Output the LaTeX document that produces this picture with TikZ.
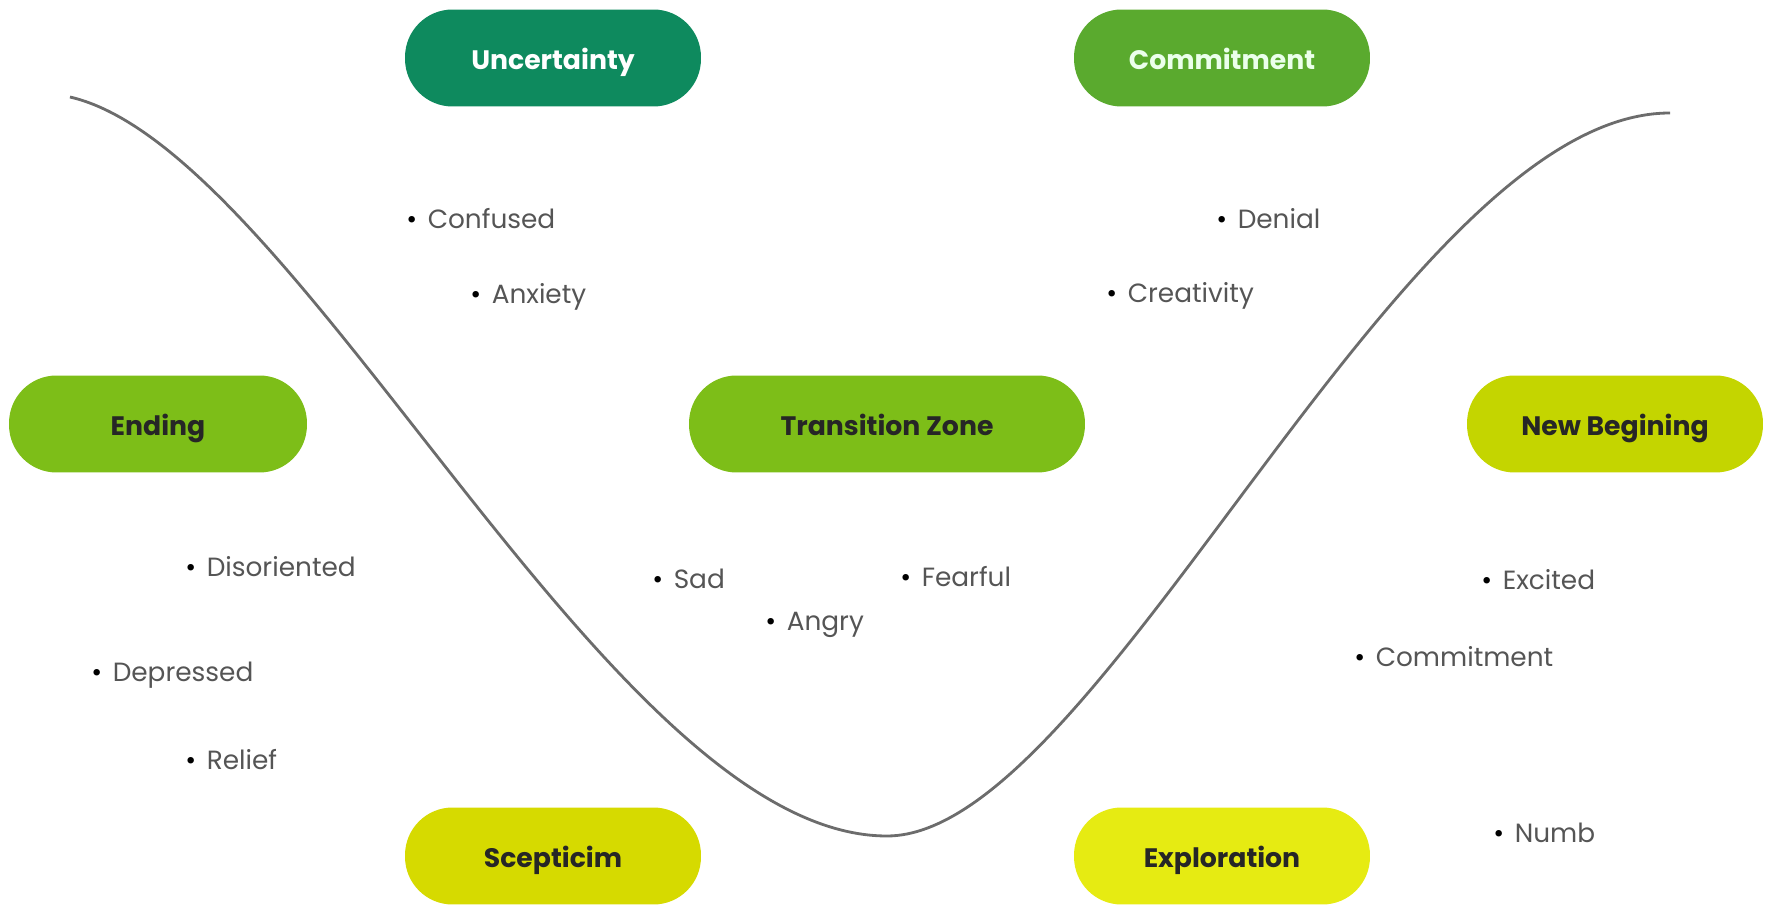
\documentclass[tikz,border=0pt]{standalone}
\usepackage{fontspec}
\setmainfont{Poppins}
\usepackage{tikz}
\usetikzlibrary{positioning}

\definecolor{teal1}{HTML}{0E8A5E}
\definecolor{green1}{HTML}{5AAA2E}
\definecolor{green2}{HTML}{7DBE18}
\definecolor{lime1}{HTML}{C4D500}
\definecolor{lime2}{HTML}{D6DA00}
\definecolor{yellow1}{HTML}{E6EB12}
\definecolor{feelgray}{HTML}{555555}

\tikzset{
x=0.02cm, y=-0.02cm, % one unit is one pixel of the reference
stage/.style={rounded corners=0.95cm, minimum width=5.92cm, minimum height=1.94cm, text height=13pt, text depth=0pt, font=\fontsize{15.2}{17}\selectfont\bfseries, text=black!85}, % the pill shaped labels
feeling/.style={anchor=west, inner sep=0pt, font=\fontsize{15}{17}\selectfont, text=feelgray}, % the bullet words
curve/.style={draw=gray!85!black, line width=1.6pt}, % the change curve
}
\newcommand{\feel}[1]{\textcolor{black}{\textbullet}\hspace{0.4em}#1}

\begin{document}
\begin{tikzpicture}
  \useasboundingbox (0,0) rectangle (1772,908);

  % the curve
  \coordinate (top left) at (70,97);
  \coordinate (bottom) at (887,836);
  \coordinate (top right) at (1670,113);
  \draw[curve] (top left) .. controls (300,150) and (610,836) .. (bottom)
    .. controls (1100,836) and (1400,113) .. (top right);

  % stages
  \node[stage, fill=teal1, text=white] (uncert) at (553,58) {Uncertainty};
  \node[stage, fill=green1, text=green!8] (commit) at (1222,58) {Commitment};
  \node[stage, fill=green2, minimum width=5.96cm] (ending) at (158,424) {Ending};
  \node[stage, fill=green2, minimum width=7.92cm] (trans) at (887,424) {Transition Zone};
  \node[stage, fill=lime1] (newbeg) at (1615,424) {New Begining};
  \node[stage, fill=lime2] (scept) at (553,856) {Scepticim};
  \node[stage, fill=yellow1] (explor) at (1222,856) {Exploration};

  % feelings
  \node[feeling] (confused) at (406,219) {\feel{Confused}};
  \node[feeling] (anxiety) at (470,297) {\feel{Anxiety}};
  \node[feeling] (denial) at (1216,219) {\feel{Denial}};
  \node[feeling] (creat) at (1106,296) {\feel{Creativity}};
  \node[feeling] (disor) at (185,567) {\feel{Disoriented}};
  \node[feeling] (depress) at (91,675) {\feel{Depressed}};
  \node[feeling] (relief) at (185,760) {\feel{Relief}};
  \node[feeling] (sad) at (652,579) {\feel{Sad}};
  \node[feeling] (angry) at (765,625) {\feel{Angry}};
  \node[feeling] (fearful) at (900,577) {\feel{Fearful}};
  \node[feeling] (excited) at (1481,580) {\feel{Excited}};
  \node[feeling] (commit2) at (1354,657) {\feel{Commitment}};
  \node[feeling] (numb) at (1493,833) {\feel{Numb}};
\end{tikzpicture}
\end{document}
